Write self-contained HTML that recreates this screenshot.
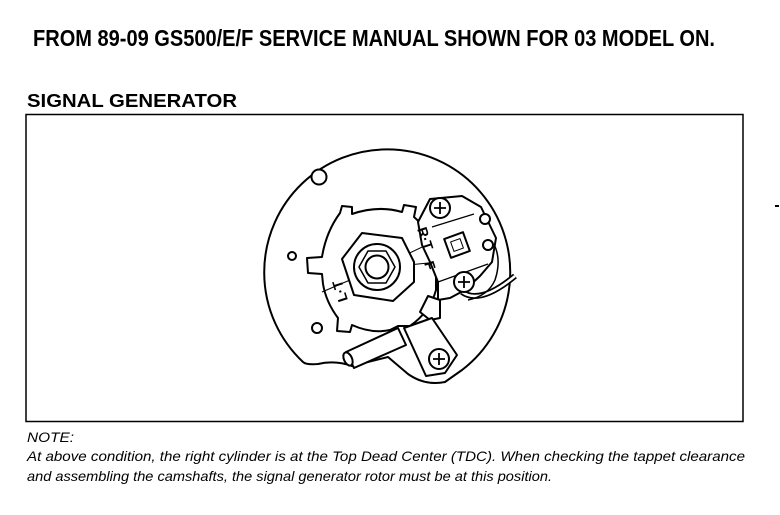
<!DOCTYPE html>
<html><head><meta charset="utf-8"><style>
html,body{margin:0;padding:0;background:#fff;}
svg{display:block;}
</style></head><body>
<svg width="780" height="515" viewBox="0 0 780 515" xmlns="http://www.w3.org/2000/svg">
<rect width="780" height="515" fill="#fff"/>
<text x="33" y="46" font-family="Liberation Sans, sans-serif" font-weight="bold" font-size="23" textLength="682" lengthAdjust="spacingAndGlyphs">FROM 89-09 GS500/E/F SERVICE MANUAL SHOWN FOR 03 MODEL ON.</text>
<text x="27" y="107" font-family="Liberation Sans, sans-serif" font-weight="bold" font-size="18" textLength="210" lengthAdjust="spacingAndGlyphs">SIGNAL GENERATOR</text>
<rect x="26" y="114.5" width="717" height="307" fill="none" stroke="#000" stroke-width="1.5"/>
<rect x="775" y="205" width="4" height="2" fill="#000"/>
<text x="27" y="442" font-family="Liberation Sans, sans-serif" font-style="italic" font-size="14" textLength="47" lengthAdjust="spacingAndGlyphs">NOTE:</text>
<text x="27" y="461" font-family="Liberation Sans, sans-serif" font-style="italic" font-size="14" textLength="718" lengthAdjust="spacingAndGlyphs">At above condition, the right cylinder is at the Top Dead Center (TDC). When checking the tappet clearance</text>
<text x="27" y="481" font-family="Liberation Sans, sans-serif" font-style="italic" font-size="14" textLength="525" lengthAdjust="spacingAndGlyphs">and assembling the camshafts, the signal generator rotor must be at this position.</text>

<g fill="#fff" stroke="#000" stroke-width="2" stroke-linejoin="round">
<path d="M303,362 A123,123 0 1 1 462,370 L445,382 Q425,386 408,374 L388,357 L352,366 Q335,360 318,364 Q306,365 303,362 Z"/>
<circle cx="319" cy="177" r="7.5"/>
<circle cx="292" cy="256" r="4"/>
<circle cx="317" cy="328" r="5"/>
<path d="M462,292 Q480,305 515,276" fill="none" stroke-width="6"/>
<path d="M462,292 Q480,305 515,276" fill="none" stroke="#fff" stroke-width="2.5"/>
<path d="M483,230 Q505,250 495,280 Q488,296 468,300" fill="none" stroke-width="1.5"/>
<path d="M340,213 L342,206 L352,207 L352,214 Q378,205 402,212 L404,205 L416,207 L414,217 Q432,232 436,262 L436,290 Q430,312 410,326 L398,326 L390,330 Q372,334 352,325 L350,332 L337,331 L338,318 Q326,302 323,284 L322,274 L308,273 L307,258 L322,257 Q326,232 340,213 Z"/>
<path d="M378,268 L437,240 M378,268 L438,262 M378,268 L322,292" fill="none" stroke-width="1"/>
<polygon points="414,262 402,238 362,233 342,259 354,295 393,301 414,282" />
<circle cx="377" cy="267" r="23"/>
<polygon points="395,267 386,251 368,251 359,267 368,283 386,283" stroke-width="1.5"/>
<circle cx="377" cy="267" r="11.5"/>
<path d="M418,222 L430,199 L462,196 L481,207 L496,238 L492,262 L480,276 L465,290 L450,298 L438,300 L438,282 L430,262 L422,245 Z"/>
<path d="M432,227 L474,214 M438,282 L488,264" fill="none" stroke-width="1.2"/>
<g transform="rotate(-20 457 245)"><rect x="447" y="235" width="20" height="20"/><rect x="452" y="240" width="10" height="10" stroke-width="1"/></g>
<circle cx="485" cy="219" r="5"/>
<circle cx="488" cy="245" r="5"/>
<circle cx="440" cy="208" r="10"/>
<path d="M434,208 H446 M440,202 V214" stroke-width="1.8"/>
<circle cx="464" cy="282" r="10"/>
<path d="M458,282 H470 M464,276 V288" stroke-width="1.8"/>
<path d="M428,296 L440,300 L440,318 L430,320 L420,312 Z"/>
<path d="M346,352 L398,328 L406,345 L354,368 Z"/>
<ellipse cx="348" cy="359" rx="4" ry="7" transform="rotate(-25 348 359)"/>
<path d="M404,328 L432,318 L457,355 L445,373 L426,376 Z"/>
<circle cx="439" cy="359" r="10"/>
<path d="M433,359 H445 M439,353 V365" stroke-width="1.8"/>
</g>
<g font-family="Liberation Sans, sans-serif" font-weight="bold" font-size="14" fill="#000">
<text x="0" y="0" transform="translate(417,229) rotate(72)">R·T</text>
<text x="0" y="0" transform="translate(424,263) rotate(72)">F</text>
<text x="0" y="0" transform="translate(348,300) rotate(-108)">L·T</text>
</g>
</svg>
</body></html>
